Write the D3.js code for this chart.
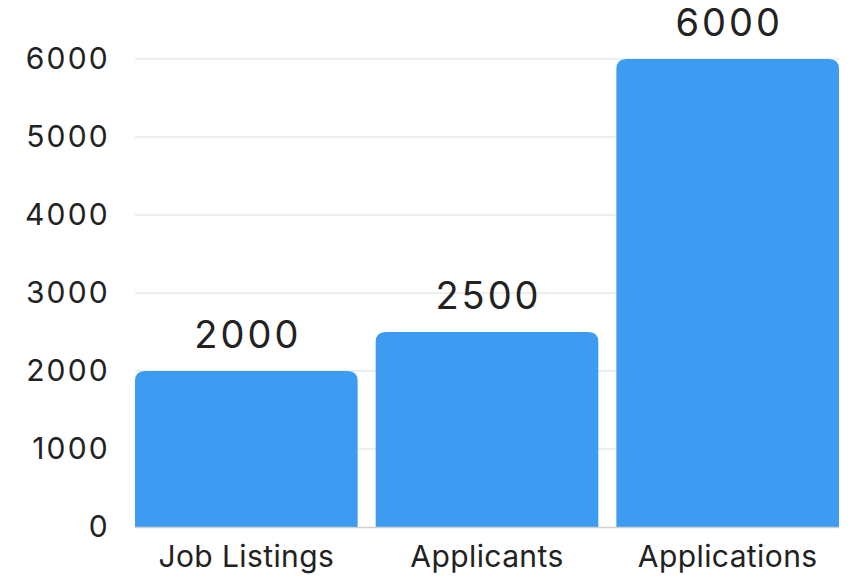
<!DOCTYPE html>
<html>
<head>
<meta charset="utf-8">
<script src="https://cdn.jsdelivr.net/npm/d3@7"></script>
<style>
  html, body { margin: 0; padding: 0; background: #fff; }
  svg { display: block; }
</style>
</head>
<body>
<svg id="chart" width="849" height="579"></svg>
<script>
const categories = ["Job Listings", "Applicants", "Applications"];
const values = [2000, 2500, 6000];
const yTicks = [0, 1000, 2000, 3000, 4000, 5000, 6000];

const W = 849, H = 579;
const margin = { top: 59, right: 10, bottom: 52, left: 135 };
const svg = d3.select("#chart");

const x = d3.scaleBand()
  .domain(categories)
  .range([margin.left, W - margin.right])
  .paddingInner(0.075)
  .paddingOuter(0);

const y = d3.scaleLinear()
  .domain([0, 6000])
  .range([H - margin.bottom, margin.top]);

const font = "Inter, 'DejaVu Sans', sans-serif";
const textColor = "#222";

// horizontal grid
svg.append("g")
  .selectAll("line")
  .data(yTicks.filter(d => d > 0))
  .join("line")
  .attr("x1", margin.left)
  .attr("x2", W - margin.right)
  .attr("y1", d => y(d))
  .attr("y2", d => y(d))
  .attr("stroke", "#e8e8e8")
  .attr("stroke-width", 1.5);

// y axis labels
const yAxis = d3.axisLeft(y).tickValues(yTicks).tickSize(0).tickPadding(25).tickFormat(d3.format("d"));
svg.append("g")
  .attr("transform", `translate(${margin.left},0)`)
  .call(yAxis)
  .call(g => g.select(".domain").remove())
  .call(g => g.selectAll("text")
    .attr("font-family", font)
    .attr("font-size", 30)
    .attr("letter-spacing", 2.2)
    .attr("fill", textColor));

// bars with rounded top corners
const r = 10;
function barPath(d, i) {
  const x0 = x(categories[i]), w = x.bandwidth();
  const y0 = y(d), yb = y(0);
  return `M${x0},${yb}V${y0 + r}Q${x0},${y0} ${x0 + r},${y0}H${x0 + w - r}Q${x0 + w},${y0} ${x0 + w},${y0 + r}V${yb}Z`;
}
svg.append("g")
  .selectAll("path")
  .data(values)
  .join("path")
  .attr("d", barPath)
  .attr("fill", "#3d9bf2");

// baseline
svg.append("line")
  .attr("x1", margin.left)
  .attr("x2", W - margin.right)
  .attr("y1", y(0) + 0.5)
  .attr("y2", y(0) + 0.5)
  .attr("stroke", "#cfcfcf")
  .attr("stroke-width", 1.5);

// value labels
svg.append("g")
  .selectAll("text")
  .data(values)
  .join("text")
  .attr("x", (d, i) => x(categories[i]) + x.bandwidth() / 2 + 1.5)
  .attr("y", d => y(d) - 23)
  .attr("text-anchor", "middle")
  .attr("font-family", font)
  .attr("font-size", 38)
  .attr("letter-spacing", 3)
  .attr("fill", textColor)
  .text(d => d);

// x axis labels
svg.append("g")
  .selectAll("text")
  .data(categories)
  .join("text")
  .attr("x", d => x(d) + x.bandwidth() / 2)
  .attr("y", y(0) + 40)
  .attr("text-anchor", "middle")
  .attr("font-family", font)
  .attr("font-size", 30)
  .attr("letter-spacing", 0.4)
  .attr("fill", textColor)
  .text(d => d);
</script>
</body>
</html>
